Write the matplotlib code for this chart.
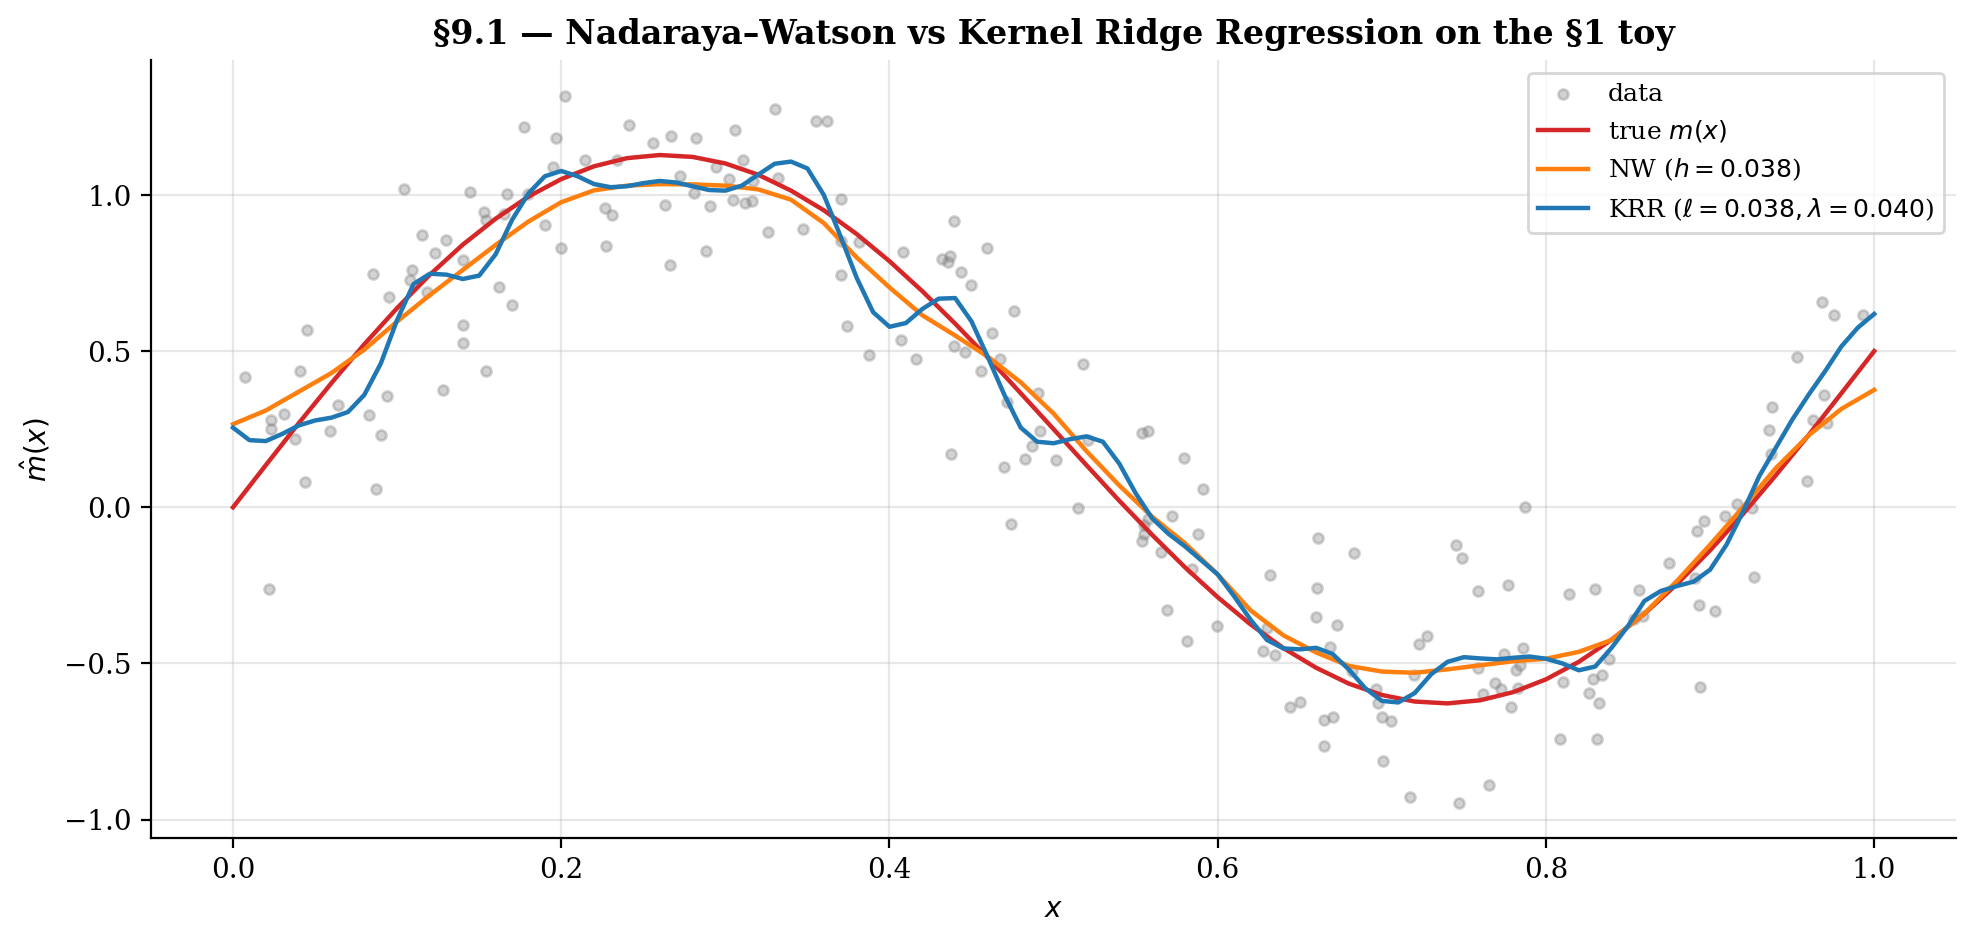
import matplotlib
matplotlib.use("Agg")
import matplotlib.pyplot as plt
import numpy as np

plt.rcParams['font.family'] = 'DejaVu Serif'
plt.rcParams['font.size'] = 10

# noisy sample
data_x = [0.104, 0.1445, 0.167, 0.153, 0.154, 0.165, 0.115, 0.130, 0.123, 0.140,
          0.085, 0.109, 0.108, 0.118, 0.095, 0.162, 0.170, 0.140, 0.140, 0.045,
          0.154, 0.041, 0.007, 0.128, 0.094, 0.064, 0.031, 0.023, 0.023, 0.083,
          0.059, 0.038, 0.090, 0.044, 0.087, 0.022,
          0.2024, 0.177, 0.197, 0.241, 0.256, 0.267, 0.282, 0.306, 0.330, 0.355,
          0.362, 0.2146, 0.234, 0.195, 0.2725, 0.294, 0.3106, 0.302, 0.332, 0.317,
          0.1795, 0.281, 0.263, 0.2906, 0.3045, 0.312, 0.316, 0.2268, 0.2307, 0.190,
          0.200, 0.2274, 0.266, 0.2884, 0.326, 0.347, 0.3705, 0.3705,
          0.3707, 0.3813, 0.4392, 0.4085, 0.432, 0.437, 0.4356, 0.4437, 0.4497, 0.4593,
          0.374, 0.4756, 0.4622, 0.4069, 0.3878, 0.4159, 0.4392, 0.4463, 0.456, 0.4675,
          0.4715, 0.4904, 0.4374, 0.4823, 0.4868, 0.4915,
          0.4695, 0.5014, 0.521, 0.515, 0.474, 0.5538, 0.5575, 0.5795, 0.591, 0.572,
          0.5575, 0.555, 0.555, 0.5537, 0.5878, 0.5652, 0.5843, 0.569, 0.5994, 0.581,
          0.661, 0.6319, 0.6606, 0.6598, 0.630, 0.6277, 0.6348, 0.518,
          0.683, 0.7451, 0.749, 0.7587, 0.777,
          0.6728, 0.6687, 0.682, 0.7224, 0.7276, 0.7197, 0.6967, 0.6976, 0.7002, 0.7057,
          0.644, 0.6502, 0.6646, 0.670, 0.665, 0.7006, 0.7171, 0.7471, 0.7655, 0.7587,
          0.7744, 0.7862, 0.7815, 0.7843, 0.769, 0.7724, 0.7618, 0.7831, 0.7787,
          0.7874, 0.8142, 0.830, 0.857, 0.8537, 0.8593, 0.8752, 0.891, 0.8933, 0.9032,
          0.9268, 0.8923, 0.8966, 0.9088, 0.9167, 0.9258, 0.8939, 0.8106, 0.8288, 0.834,
          0.8384, 0.8264, 0.8325, 0.8085, 0.8313,
          0.9679, 0.9758, 0.9929, 0.953, 0.9697, 0.9378, 0.936, 0.9626, 0.9711, 0.9372,
          0.959]
data_y = [1.019, 1.009, 1.003, 0.944, 0.92, 0.94, 0.872, 0.856, 0.814, 0.792,
          0.747, 0.76, 0.727, 0.688, 0.673, 0.707, 0.647, 0.583, 0.525, 0.567,
          0.435, 0.435, 0.417, 0.374, 0.357, 0.328, 0.30, 0.281, 0.25, 0.295,
          0.243, 0.22, 0.231, 0.08, 0.058, -0.261,
          1.318, 1.217, 1.183, 1.224, 1.167, 1.188, 1.183, 1.209, 1.276, 1.237,
          1.237, 1.113, 1.113, 1.089, 1.062, 1.089, 1.113, 1.05, 1.053, 1.044,
          1.003, 1.006, 0.968, 0.966, 0.984, 0.974, 0.98, 0.958, 0.936, 0.904,
          0.83, 0.837, 0.776, 0.821, 0.881, 0.891, 0.987, 0.744,
          0.853, 0.848, 0.917, 0.816, 0.795, 0.806, 0.784, 0.752, 0.712, 0.829,
          0.581, 0.630, 0.558, 0.535, 0.489, 0.476, 0.515, 0.496, 0.436, 0.476,
          0.338, 0.367, 0.172, 0.154, 0.195, 0.245,
          0.130, 0.151, 0.214, -0.001, -0.054, 0.239, 0.244, 0.159, 0.058, -0.029,
          -0.038, -0.056, -0.087, -0.107, -0.084, -0.142, -0.197, -0.33, -0.379, -0.429,
          -0.099, -0.218, -0.257, -0.35, -0.385, -0.46, -0.474, 0.46,
          -0.145, -0.122, -0.161, -0.268, -0.25,
          -0.378, -0.448, -0.525, -0.439, -0.413, -0.536, -0.581, -0.628, -0.673, -0.684,
          -0.638, -0.623, -0.681, -0.670, -0.763, -0.814, -0.927, -0.946, -0.889, -0.515,
          -0.469, -0.452, -0.521, -0.506, -0.562, -0.581, -0.598, -0.578, -0.638,
          0.0, -0.277, -0.263, -0.266, -0.357, -0.348, -0.179, -0.227, -0.314, -0.333,
          -0.224, -0.075, -0.043, -0.028, 0.01, -0.003, -0.575, -0.558, -0.551, -0.536,
          -0.485, -0.594, -0.628, -0.741, -0.741,
          0.656, 0.615, 0.615, 0.481, 0.359, 0.32, 0.247, 0.279, 0.269, 0.17,
          0.083]

# true regression function and NW fit, sampled every 0.02
grid_coarse = [i / 50 for i in range(51)]
true_m = [0.0, 0.135, 0.269, 0.398, 0.522, 0.638, 0.745, 0.841, 0.924, 0.995,
          1.051, 1.092, 1.118, 1.128, 1.122, 1.101, 1.065, 1.014, 0.951, 0.875,
          0.788, 0.692, 0.588, 0.479, 0.365, 0.25, 0.135, 0.021, -0.088, -0.192,
          -0.288, -0.375, -0.451, -0.514, -0.565, -0.601, -0.622, -0.628, -0.618, -0.592,
          -0.551, -0.495, -0.424, -0.341, -0.245, -0.138, -0.022, 0.102, 0.231, 0.365,
          0.5]
nw_fit = [0.266, 0.31, 0.37, 0.43, 0.505, 0.595, 0.68, 0.76, 0.84, 0.915,
          0.977, 1.015, 1.03, 1.035, 1.034, 1.03, 1.018, 0.985, 0.91, 0.80,
          0.704, 0.615, 0.55, 0.482, 0.40, 0.30, 0.18, 0.07, -0.03, -0.115,
          -0.215, -0.33, -0.41, -0.465, -0.508, -0.526, -0.53, -0.519, -0.506, -0.493,
          -0.485, -0.463, -0.425, -0.34, -0.235, -0.12, 0.0, 0.125, 0.23, 0.315,
          0.376]

# KRR fit, sampled every 0.01
grid_fine = [i / 100 for i in range(101)]
krr_fit = [0.255, 0.215, 0.212, 0.235, 0.262, 0.278, 0.287, 0.305, 0.36, 0.46,
           0.60, 0.715, 0.748, 0.745, 0.731, 0.742, 0.81, 0.92, 1.005, 1.06,
           1.077, 1.06, 1.035, 1.025, 1.028, 1.038, 1.045, 1.04, 1.028, 1.016,
           1.014, 1.03, 1.065, 1.10, 1.107, 1.085, 1.0, 0.87, 0.735, 0.625,
           0.578, 0.59, 0.635, 0.668, 0.67, 0.595, 0.48, 0.36, 0.255, 0.21,
           0.205, 0.218, 0.227, 0.21, 0.14, 0.045, -0.035, -0.085, -0.125, -0.17,
           -0.215, -0.285, -0.36, -0.425, -0.452, -0.455, -0.45, -0.47, -0.52, -0.58,
           -0.62, -0.625, -0.595, -0.535, -0.495, -0.48, -0.484, -0.487, -0.482, -0.478,
           -0.485, -0.5, -0.522, -0.51, -0.45, -0.38, -0.3, -0.268, -0.252, -0.238,
           -0.2, -0.12, -0.015, 0.1, 0.19, 0.28, 0.36, 0.435, 0.515, 0.575,
           0.619]

fig = plt.figure(figsize=(9.88, 4.715), dpi=200)
ax = fig.add_axes([0.0764, 0.1113, 0.9136, 0.8247])

ax.scatter(data_x, data_y, s=13, color='gray', alpha=0.35, label='data', zorder=2)
ax.plot(grid_coarse, true_m, color='#d62728', lw=1.6, label='true $m(x)$', zorder=3)
ax.plot(grid_coarse, nw_fit, color='#ff7f0e', lw=1.6, label='NW ($h=0.038$)', zorder=4)
ax.plot(grid_fine, krr_fit, color='#1f77b4', lw=1.6,
        label=r'KRR ($\ell=0.038, \lambda=0.040$)', zorder=5)

ax.set_xlim(-0.05, 1.05)
ax.grid(True, alpha=0.3)
ax.spines['top'].set_visible(False)
ax.spines['right'].set_visible(False)
ax.set_xlabel('$x$')
ax.set_ylabel(r'$\hat{m}(x)$')
ax.set_title('§9.1 — Nadaraya–Watson vs Kernel Ridge Regression on the §1 toy',
             fontweight='bold', fontsize=12)
ax.legend(loc='upper right', fontsize=9)

fig.savefig('out.png', dpi=200)
